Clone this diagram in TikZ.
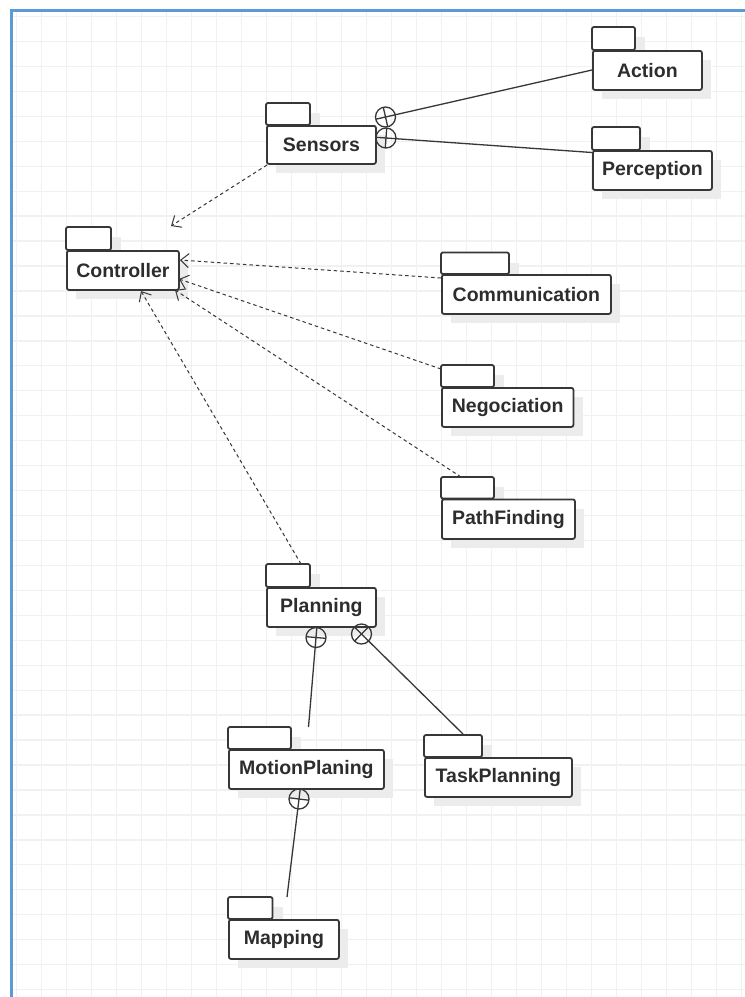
\documentclass[tikz,border=0pt]{standalone}
\usepackage{fontspec}
\setmainfont{Liberation Sans}
\usetikzlibrary{arrows.meta,calc}
\definecolor{gridc}{RGB}{241,241,241}
\definecolor{framec}{RGB}{91,155,213}
\definecolor{linec}{RGB}{55,55,55}
\definecolor{textc}{RGB}{45,45,45}
\definecolor{shadowc}{RGB}{236,236,236}
\newcommand\pkgfont{\fontsize{19.5}{23}\selectfont\bfseries}
\tikzset{
  pkgbox/.style={draw=linec, line width=1.8pt, fill=white, rounded corners=2pt,
    anchor=north west, inner sep=0pt, font=\pkgfont, text=textc},
  tabbox/.style={draw=linec, line width=1.8pt, fill=white, rounded corners=2pt},
  gridline/.style={draw=gridc, line width=1.3pt},
  contain/.style={draw=linec, line width=1.3pt},
  dep/.style={draw=linec, line width=1pt, dash pattern=on 3.5pt off 3pt,
    -{Straight Barb[length=8pt,width=14pt]}},
}
\newcommand\Pkg[8]{%
  \fill[shadowc] (#2+10,#3-#7+10) rectangle (#2+#6+10,#3+10);
  \fill[shadowc] (#2+10,#3+10) rectangle (#2+#4+10,#3+#5+10);
  \draw[tabbox] (#2,#3) rectangle (#2+#6,#3-#7);
  \node[pkgbox, minimum width=#4, minimum height=#5] (#1) at (#2,#3) {#8};
}
\newcommand\Contain[2]{%
  \draw[contain] (#1) circle (10);
  \draw[contain] ($(#1)!-10pt!(#2)$) -- (#2);
  \draw[contain] ($(#1)!10pt!90:(#2)$) -- ($(#1)!10pt!-90:(#2)$);
}
\begin{document}
\begin{tikzpicture}[x=1pt,y=-1pt]
\fill[white] (0,0) rectangle (745,997);
\useasboundingbox (0,0) rectangle (745,997);
% grid
\foreach \i in {0,...,29} \draw[gridline] ({16.7+25*\i},10) -- ({16.7+25*\i},997);
\foreach \j in {0,...,39} \draw[gridline] (12,{16.5+24.95*\j}) -- (745,{16.5+24.95*\j});
% frame
\draw[framec, line width=2.5pt] (11.5,997) -- (11.5,10.5) -- (745,10.5);
% packages
\Pkg{sensors}{266}{125}{109}{38}{44}{22}{Sensors}
\Pkg{controller}{66}{250}{112}{39}{45}{23}{Controller}
\Pkg{action}{592}{50}{109}{39}{43}{23}{Action}
\Pkg{perception}{592}{150}{119}{39}{48}{23}{Perception}
\Pkg{communication}{441}{274}{169}{39}{68}{21.5}{Communication}
\Pkg{negociation}{441}{387}{131.5}{39}{53}{22}{Negociation}
\Pkg{pathfinding}{441}{498.5}{133}{39.5}{53}{21.5}{PathFinding}
\Pkg{planning}{266}{587}{109}{39}{44}{23}{Planning}
\Pkg{motion}{228}{749}{155}{39}{63}{22}{MotionPlaning}
\Pkg{task}{424}{757}{147}{39}{58}{22}{TaskPlanning}
\Pkg{mapping}{228}{919}{110}{39}{44.5}{22}{Mapping}
% connector end points
\coordinate (cAct) at (385.5,117);
\coordinate (cPer) at (386,138);
\coordinate (cMot) at (316,637.5);
\coordinate (cTask) at (361.5,634);
\coordinate (cMap) at (299,799);
\coordinate (tAct) at (592,70);
\coordinate (tPer) at (592,152.5);
\coordinate (tMot) at (308.5,727);
\coordinate (tTask) at (463,734);
\coordinate (tMap) at (287,897);
% containment
\Contain{cAct}{tAct}
\Contain{cPer}{tPer}
\Contain{cMot}{tMot}
\Contain{cTask}{tTask}
\Contain{cMap}{tMap}
% dependencies
\coordinate (sSen) at (267,165);
\coordinate (eSen) at (171,226);
\coordinate (sCom) at (441,278);
\coordinate (eCom) at (180,260);
\coordinate (sNeg) at (441,369);
\coordinate (eNeg) at (179,279);
\coordinate (sPath) at (461,477);
\coordinate (ePath) at (175,290);
\coordinate (sPlan) at (301,564);
\coordinate (ePlan) at (141,291);
\draw[dep] (sSen) -- (eSen);
\draw[dep] (sCom) -- (eCom);
\draw[dep] (sNeg) -- (eNeg);
\draw[dep] (sPath) -- (ePath);
\draw[dep] (sPlan) -- (ePlan);
\end{tikzpicture}
\end{document}
